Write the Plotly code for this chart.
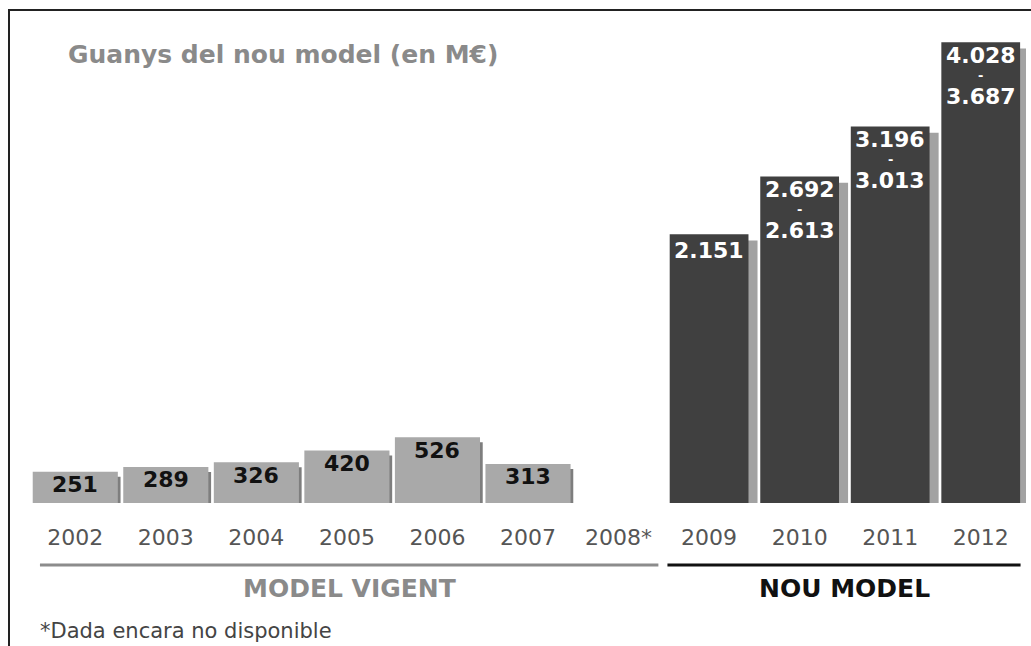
import plotly.graph_objects as go

# ---------------- data ----------------
years_old = ["2002", "2003", "2004", "2005", "2006", "2007", "2008*"]
values_old = [251, 289, 326, 420, 526, 313, None]
years_new = ["2009", "2010", "2011", "2012"]
values_new_low = [2151, 2613, 3013, 3687]
values_new_high = [None, 2692, 3196, 4028]
categories = years_old + years_new

title_text = "Guanys del nou model (en M€)"
groups = [("MODEL VIGENT", "2002", "2008*"), ("NOU MODEL", "2009", "2012")]
footnote = "*Dada encara no disponible"

# ---------------- layout helpers ----------------
W, H = 1031, 646
ML, MR, MT, MB = 30, 5, 9, 143
PW, PH = W - ML - MR, H - MT - MB
Y_MAX = 3952


def px_x(p):
    return (p - ML) / PW


def px_y(p):
    return (H - MB - p) / PH


def fmt(v):
    return f"{v:,}".replace(",", ".")


FONT = "DejaVu Sans"
OLD_COLOR = "#a9a9a9"
NEW_COLOR = "#404040"

fig = go.Figure()

old_x = [y for y, v in zip(years_old, values_old) if v is not None]
old_v = [v for v in values_old if v is not None]

W_OLD, W_NEW = 0.94, 0.87

# shadows
fig.add_trace(go.Bar(x=old_x, y=old_v, base=-40, width=W_OLD, offset=-W_OLD / 2 + 0.03,
                     marker=dict(color="#7e7e7e", line_width=0), hoverinfo="skip", showlegend=False))
fig.add_trace(go.Bar(x=years_new, y=values_new_low, base=-50, width=W_NEW, offset=-W_NEW / 2 + 0.1,
                     marker=dict(color="#a2a2a2", line_width=0), hoverinfo="skip", showlegend=False))
# main bars
fig.add_trace(go.Bar(x=old_x, y=old_v, width=W_OLD,
                     marker=dict(color=OLD_COLOR, line_width=0), showlegend=False))
fig.add_trace(go.Bar(x=years_new, y=values_new_low, width=W_NEW,
                     marker=dict(color=NEW_COLOR, line_width=0), showlegend=False))

annotations = []
# old labels
for x, v in zip(old_x, old_v):
    annotations.append(dict(x=categories.index(x), y=v, xref="x", yref="y", text=f"<b>{fmt(v)}</b>",
                            showarrow=False, yanchor="middle", yshift=-13, borderpad=0,
                            font=dict(family=FONT, size=22, color="#111111")))
# new labels
for x, lo, hi in zip(years_new, values_new_low, values_new_high):
    xi = categories.index(x)
    if hi is None:
        annotations.append(dict(x=xi, y=lo, xref="x", yref="y", text=f"<b>{fmt(lo)}</b>",
                                showarrow=False, yanchor="middle", yshift=-16, borderpad=0,
                                font=dict(family=FONT, size=22, color="white")))
    else:
        annotations.append(dict(x=xi, y=lo, xref="x", yref="y", text=f"<b>{fmt(hi)}</b>",
                                showarrow=False, yanchor="middle", yshift=-13, borderpad=0,
                                font=dict(family=FONT, size=22, color="white")))
        annotations.append(dict(x=xi, y=lo, xref="x", yref="y", text="<b>-</b>",
                                showarrow=False, yanchor="middle", yshift=-33, borderpad=0,
                                font=dict(family=FONT, size=13, color="white")))
        annotations.append(dict(x=xi, y=lo, xref="x", yref="y", text=f"<b>{fmt(lo)}</b>",
                                showarrow=False, yanchor="middle", yshift=-54, borderpad=0,
                                font=dict(family=FONT, size=22, color="white")))

# title
annotations.append(dict(x=px_x(66), y=px_y(55), xref="paper", yref="paper", text=f"<b>{title_text}</b>",
                        showarrow=False, xanchor="left", yanchor="middle",
                        font=dict(family=FONT, size=25, color="#8a8a8a")))

shapes = []
group_styles = [("#8c8c8c", "#8a8a8a", 0.39), ("#111111", "#111111", 0.46)]
for (name, first, last), (lc, tc, lpad) in zip(groups, group_styles):
    i0, i1 = categories.index(first), categories.index(last)
    x0, x1 = i0 - lpad, i1 + 0.44
    shapes.append(dict(type="line", xref="x", yref="paper", x0=x0, x1=x1,
                       y0=px_y(565), y1=px_y(565), line=dict(color=lc, width=3)))
    annotations.append(dict(x=(x0 + x1) / 2, y=px_y(588), xref="x", yref="paper", text=f"<b>{name}</b>",
                            showarrow=False, xanchor="center", yanchor="middle",
                            font=dict(family=FONT, size=25, color=tc)))

annotations.append(dict(x=px_x(38), y=px_y(631), xref="paper", yref="paper", text=footnote,
                        showarrow=False, xanchor="left", yanchor="middle",
                        font=dict(family=FONT, size=21, color="#444444")))

# frame
shapes.append(dict(type="line", xref="paper", yref="paper", x0=px_x(9), x1=px_x(W + 5),
                   y0=px_y(10), y1=px_y(10), line=dict(color="#222222", width=2)))
shapes.append(dict(type="line", xref="paper", yref="paper", x0=px_x(9), x1=px_x(9),
                   y0=px_y(9), y1=px_y(H + 5), line=dict(color="#222222", width=2)))

fig.update_layout(
    width=W, height=H,
    margin=dict(l=ML, r=MR, t=MT, b=MB, pad=0),
    paper_bgcolor="white", plot_bgcolor="white",
    barmode="overlay",
    xaxis=dict(type="category", categoryorder="array", categoryarray=categories,
               tickvals=categories, ticktext=categories, range=[-0.5, len(categories) - 0.5],
               showgrid=False, zeroline=False, showline=False, ticks="",
               tickfont=dict(family=FONT, size=22, color="#555555"), ticklabelstandoff=19),
    yaxis=dict(range=[0, Y_MAX], visible=False, showgrid=False, zeroline=False),
    annotations=annotations,
    shapes=shapes,
)

fig.write_html("out.html", config={"displayModeBar": False},
               post_script="document.body.style.margin='0';document.body.style.overflow='hidden';")
